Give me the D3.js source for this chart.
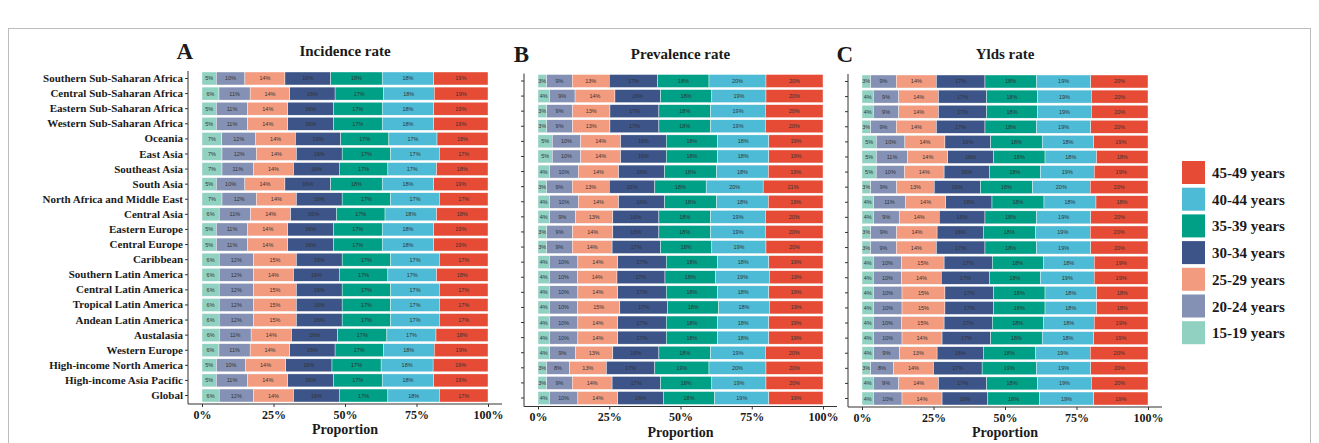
<!DOCTYPE html>
<html>
<head>
<meta charset="utf-8">
<script src="https://cdn.jsdelivr.net/npm/d3@7"></script>
<style>
  body { margin: 0; background: #fff; }
  svg { display: block; }
  .serif { font-family: "Liberation Serif", "Times New Roman", serif; font-weight: bold; fill: #1a1a1a; }
</style>
</head>
<body>
<script>
// Regions, top to bottom
var regions = ["Southern Sub-Saharan Africa", "Central Sub-Saharan Africa", "Eastern Sub-Saharan Africa",
  "Western Sub-Saharan Africa", "Oceania", "East Asia", "Southeast Asia", "South Asia",
  "North Africa and Middle East", "Central Asia", "Eastern Europe", "Central Europe", "Caribbean",
  "Southern Latin America", "Central Latin America", "Tropical Latin America", "Andean Latin America",
  "Austalasia", "Western Europe", "High-income North America", "High-income Asia Pacific", "Global"];

// Age groups, left to right in each bar
var ageGroups = ["15-19 years", "20-24 years", "25-29 years", "30-34 years", "35-39 years", "40-44 years", "45-49 years"];
var ageColors = ["#91D1C2", "#8491B4", "#F39B7F", "#3C5488", "#00A087", "#4DBBD5", "#E64B35"];

var tickLabels = ["0%", "25%", "50%", "75%", "100%"];

// Percent shares per region (rows follow regions)
var incidence = [
  [5, 10, 14, 16, 18, 18, 19], [6, 11, 14, 16, 17, 18, 19], [5, 11, 14, 16, 17, 18, 19],
  [5, 11, 14, 16, 17, 18, 19], [7, 12, 14, 16, 17, 17, 18], [7, 12, 14, 16, 17, 17, 17],
  [7, 11, 14, 16, 17, 17, 18], [5, 10, 14, 16, 18, 18, 19], [7, 12, 14, 16, 17, 17, 17],
  [6, 11, 14, 16, 17, 18, 18], [5, 11, 14, 16, 17, 18, 19], [5, 11, 14, 16, 17, 18, 19],
  [6, 12, 15, 16, 17, 17, 17], [6, 12, 14, 16, 17, 17, 18], [6, 12, 15, 16, 17, 17, 17],
  [6, 12, 15, 16, 17, 17, 17], [6, 12, 15, 16, 17, 17, 17], [6, 11, 14, 16, 17, 17, 18],
  [6, 11, 14, 16, 17, 18, 19], [5, 10, 14, 16, 17, 18, 19], [5, 11, 14, 16, 17, 18, 19],
  [6, 12, 14, 16, 17, 18, 17]
];
var prevalence = [
  [3, 9, 13, 17, 18, 20, 20], [4, 9, 14, 16, 18, 19, 20], [3, 9, 13, 17, 18, 19, 20],
  [3, 9, 13, 17, 18, 19, 20], [5, 10, 14, 16, 18, 18, 19], [5, 10, 14, 16, 18, 18, 19],
  [4, 10, 14, 16, 18, 18, 19], [3, 9, 13, 16, 18, 20, 21], [4, 10, 14, 16, 18, 18, 19],
  [4, 9, 13, 16, 18, 19, 20], [3, 9, 14, 16, 18, 19, 20], [3, 9, 14, 17, 18, 19, 20],
  [4, 10, 14, 17, 18, 18, 19], [4, 10, 14, 17, 18, 19, 19], [4, 10, 14, 17, 18, 18, 19],
  [4, 10, 15, 17, 18, 18, 19], [4, 10, 14, 17, 18, 18, 19], [4, 10, 14, 17, 18, 18, 19],
  [4, 9, 13, 16, 18, 19, 20], [3, 8, 13, 17, 19, 20, 20], [3, 9, 14, 17, 18, 19, 20],
  [4, 10, 14, 16, 18, 19, 19]
];
var ylds = [
  [3, 9, 14, 17, 18, 19, 20], [4, 9, 14, 17, 18, 19, 20], [4, 9, 14, 17, 18, 19, 20],
  [3, 9, 14, 17, 18, 19, 20], [5, 10, 14, 16, 18, 18, 19], [5, 11, 14, 16, 18, 18, 18],
  [5, 10, 14, 16, 18, 19, 19], [3, 9, 13, 16, 18, 20, 20], [4, 11, 14, 16, 18, 18, 18],
  [4, 9, 14, 16, 18, 19, 20], [3, 9, 14, 16, 18, 19, 20], [3, 9, 14, 17, 18, 19, 20],
  [4, 10, 15, 17, 18, 18, 19], [4, 10, 14, 17, 18, 19, 19], [4, 10, 15, 17, 18, 18, 18],
  [4, 10, 15, 17, 18, 18, 18], [4, 10, 15, 17, 18, 18, 19], [4, 10, 14, 17, 18, 18, 19],
  [4, 9, 13, 16, 18, 19, 20], [3, 8, 14, 17, 19, 19, 20], [4, 9, 14, 17, 18, 19, 20],
  [4, 10, 14, 16, 18, 19, 19]
];

var W = 1319, H = 443;

var svg = d3.select("body").append("svg")
  .attr("width", W)
  .attr("height", H);

// outer frame of the figure
svg.append("rect")
  .attr("x", 8.5).attr("y", 28.5)
  .attr("width", W - 17).attr("height", H)
  .attr("fill", "none").attr("stroke", "#bdbdbd");

var panels = [
  { letter: "A", title: "Incidence rate", values: incidence, axisX: 188, x0: 202, x1: 488, top: 72, showNames: true },
  { letter: "B", title: "Prevalence rate", values: prevalence, axisX: 524, x0: 538, x1: 823, top: 74.5, showNames: false },
  { letter: "C", title: "Ylds rate", values: ylds, axisX: 848, x0: 862, x1: 1148, top: 75, showNames: false }
];

panels.forEach(function(p) {
  var x = d3.scaleLinear().domain([0, 1]).range([p.x0, p.x1]);
  var y = d3.scaleBand().domain(regions).range([p.top, p.top + 330]).paddingInner(0.14);

  var table = p.values.map(function(row, i) {
    var o = { region: regions[i] };
    ageGroups.forEach(function(a, j) { o[a] = row[j]; });
    return o;
  });

  var series = d3.stack().keys(ageGroups).offset(d3.stackOffsetExpand)(table);

  var g = svg.append("g");

  var layer = g.selectAll("g.layer").data(series).enter()
    .append("g")
    .attr("class", "layer")
    .attr("fill", function(d, i) { return ageColors[i]; });

  layer.selectAll("rect").data(function(d) { return d; }).enter()
    .append("rect")
    .attr("x", function(d) { return x(d[0]); })
    .attr("y", function(d) { return y(d.data.region); })
    .attr("width", function(d) { return x(d[1]) - x(d[0]); })
    .attr("height", y.bandwidth())
    .attr("stroke", "#fff")
    .attr("stroke-width", 0.4);

  // percent labels inside each segment
  layer.each(function(s) {
    d3.select(this).selectAll("text").data(s).enter()
      .append("text")
      .attr("x", function(d) { return (x(d[0]) + x(d[1])) / 2; })
      .attr("y", function(d) { return y(d.data.region) + y.bandwidth() / 2 + 2; })
      .attr("text-anchor", "middle")
      .style("font-family", "Arial, 'Liberation Sans', sans-serif")
      .style("font-size", "5.5px")
      .style("fill", "#333")
      .text(function(d) { return d.data[s.key] + "%"; });
  });

  // left axis
  var yAxis = d3.axisLeft(y).tickSize(3).tickPadding(2);
  if (!p.showNames) yAxis.tickFormat("");
  var ya = g.append("g")
    .attr("transform", "translate(" + p.axisX + ",0)")
    .call(yAxis);
  ya.select(".domain").attr("d", "M0," + (p.top - 1) + "V" + (p.top + 332)).attr("stroke", "#333");
  ya.selectAll(".tick line").attr("stroke", "#333");
  ya.selectAll(".tick text")
    .attr("class", "serif")
    .style("font-size", "11px")
    .attr("dy", "0.32em");

  // bottom axis
  var xa = g.append("g")
    .attr("transform", "translate(0," + (p.top + 332) + ")")
    .call(d3.axisBottom(x).tickValues([0, 0.25, 0.5, 0.75, 1]).tickSize(3).tickPadding(3)
      .tickFormat(function(d, i) { return tickLabels[i]; }));
  xa.select(".domain").attr("d", "M" + p.axisX + ",0H" + (p.x1 + 14)).attr("stroke", "#333");
  xa.selectAll(".tick line").attr("stroke", "#333");
  xa.selectAll(".tick text")
    .attr("class", "serif")
    .style("font-size", "12px");

  g.append("text")
    .attr("class", "serif")
    .attr("x", (p.x0 + p.x1) / 2)
    .attr("y", p.top + 362)
    .attr("text-anchor", "middle")
    .style("font-size", "14px")
    .text("Proportion");

  g.append("text")
    .attr("class", "serif")
    .attr("x", p.axisX + 5)
    .attr("y", p.top - 13)
    .attr("text-anchor", "end")
    .style("font-size", "23px")
    .text(p.letter);

  g.append("text")
    .attr("class", "serif")
    .attr("x", (p.x0 + p.x1) / 2)
    .attr("y", p.top - 16)
    .attr("text-anchor", "middle")
    .style("font-size", "15px")
    .text(p.title);
});

// legend, oldest group on top
var legend = svg.append("g").attr("transform", "translate(1182,161)");
var legendKeys = ageGroups.slice().reverse();
var legendColors = ageColors.slice().reverse();

var item = legend.selectAll("g").data(legendKeys).enter()
  .append("g")
  .attr("transform", function(d, i) { return "translate(0," + (i * 26.7) + ")"; });

item.append("rect")
  .attr("width", 23).attr("height", 23)
  .attr("fill", function(d, i) { return legendColors[i]; });

item.append("text")
  .attr("class", "serif")
  .attr("x", 30)
  .attr("y", 17)
  .style("font-size", "15px")
  .text(function(d) { return d; });
</script>
</body>
</html>
